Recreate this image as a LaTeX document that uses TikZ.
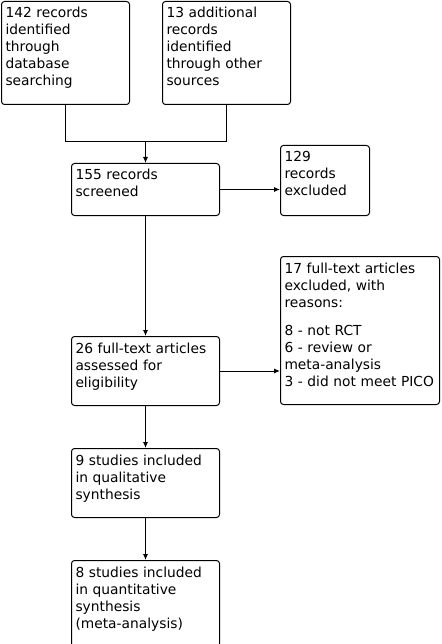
\documentclass[tikz,border=0pt]{standalone}
\usepackage{fontspec}
\setmainfont{DejaVu Sans}
\usepackage{tikz}
\usetikzlibrary{positioning,arrows.meta}
\tikzstyle{record} = [rectangle, rounded corners=3pt, draw=black, line width=1pt, fill=white, anchor=north west, align=left, inner xsep=4pt, inner ysep=6pt, text height=10.5pt, font=\fontsize{13.8}{17}\selectfont]
\tikzstyle{arrow} = [line width=1pt,-{Latex[length=6pt,width=5pt]}]
\tikzstyle{line} = [line width=1pt]

\begin{document}
\begin{tikzpicture}[x=1pt,y=-1pt]
	\useasboundingbox (0,0) rectangle (441,644);
	\node (dbsearch) [record, text width=120pt, text depth=80.5pt] at (1,1) {142 records\\identified\\through\\database\\searching};
	\node (othersrc) [record, text width=120pt, text depth=80.5pt, right=32pt of dbsearch] {13 additional\\records\\identified\\through other\\sources};
	\node (screened) [record, text width=140pt, text depth=29.5pt] at (71,163) {155 records\\screened};
	\node (excluded) [record, text width=81pt, text depth=47.5pt] at (280,145) {129\\records\\excluded};
	\node (fulltext) [record, anchor=north, text width=140pt, text depth=46.5pt, below=120pt of screened] {26 full-text articles\\assessed for\\eligibility};
	\node (ftexcluded) [record, text width=151pt, text depth=125.5pt] at (280,256) {17 full-text articles\\excluded, with\\reasons:\\[11pt]8 - not RCT\\6 - review or\\meta-analysis\\3 - did not meet PICO};
	\node (qualitative) [record, anchor=north, text width=140pt, text depth=46.5pt, below=42pt of fulltext] {9 studies included\\in qualitative\\synthesis};
	\node (quantitative) [record, anchor=north, text width=140pt, text depth=63.5pt, below=42pt of qualitative] {8 studies included\\in quantitative\\synthesis\\(meta-analysis)};
	\coordinate [above=21pt of screened] (merge);

	\draw [line] (dbsearch.south) |- (merge);
	\draw [line] (othersrc.south) |- (merge);
	\draw [arrow] (merge) -- (screened);
	\draw [arrow] (screened.east) -- (screened.east -| excluded.west);
	\draw [arrow] (screened) -- (fulltext);
	\draw [arrow] (fulltext.east) -- (fulltext.east -| ftexcluded.west);
	\draw [arrow] (fulltext) -- (qualitative);
	\draw [arrow] (qualitative) -- (quantitative);

\end{tikzpicture}
\end{document}
